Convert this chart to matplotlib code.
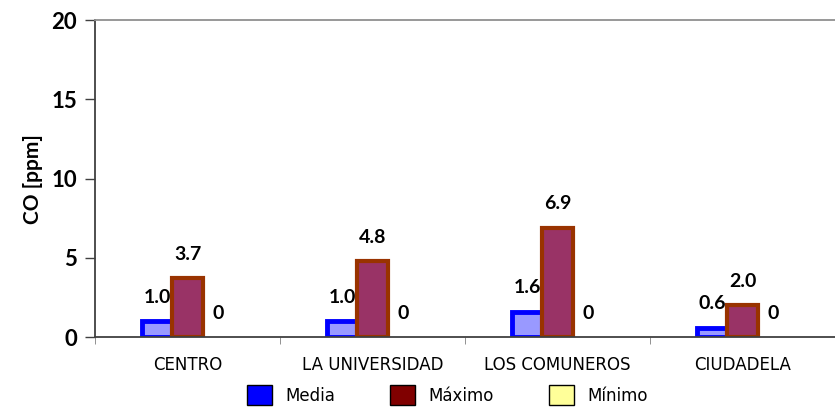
import numpy as np
import matplotlib.pyplot as plt
from matplotlib.patches import Patch

sites = ["CENTRO", "LA UNIVERSIDAD", "LOS COMUNEROS", "CIUDADELA"]
media = [1.0, 1.0, 1.6, 0.6]
maximo = [3.7, 4.8, 6.9, 2.0]
minimo = [0, 0, 0, 0]
series_names = ["Media", "Máximo", "Mínimo"]

fig = plt.figure(figsize=(8.35, 4.12), dpi=100)
ax = fig.add_axes([0.1138, 0.182, 0.8862, 0.769])

x = np.arange(len(sites))
w = 0.165
num_font = dict(family="Lato", weight="bold")

b1 = ax.bar(x - w, media, w, facecolor="#9999FF", edgecolor="#0000FF", linewidth=3.5)
b2 = ax.bar(x, maximo, w, facecolor="#993366", edgecolor="#993300", linewidth=3.0)
b3 = ax.bar(x + w, minimo, w, facecolor="#FFFF99", edgecolor="#000000", linewidth=0)

for bars, vals, fmt in [(b1, media, "{:.1f}"), (b2, maximo, "{:.1f}"), (b3, minimo, "{:.0f}")]:
    for b, v in zip(bars, vals):
        ax.annotate(fmt.format(v), (b.get_x() + b.get_width() / 2, v),
                    xytext=(0, 11), textcoords="offset points",
                    ha="center", va="bottom", fontsize=14, **num_font)

ax.set_xlim(-0.5, 3.5)
ax.set_ylim(0, 20)
ax.set_yticks([0, 5, 10, 15, 20])
ax.set_yticklabels(["0", "5", "10", "15", "20"], fontsize=16, **num_font)
ax.set_ylabel("CO [ppm]", fontsize=15, labelpad=6, **num_font)

ax.set_xticks(x)
ax.set_xticklabels(sites, fontsize=12, family="DejaVu Sans")
ax.tick_params(axis="x", length=0, pad=14)
ax.set_xticks(np.arange(-0.5, 4.0, 1.0), minor=True)
ax.tick_params(axis="x", which="minor", length=5, color="#808080")
ax.tick_params(axis="y", length=7, width=1, direction="out", color="#404040", pad=6)

for s in ["left", "bottom"]:
    ax.spines[s].set_color("#404040")
    ax.spines[s].set_linewidth(1.3)
ax.spines["top"].set_color("#909090")
ax.spines["top"].set_linewidth(1.3)
ax.spines["right"].set_visible(False)

handles = [Patch(facecolor="#0000FF", edgecolor="#000000", linewidth=1),
           Patch(facecolor="#800000", edgecolor="#000000", linewidth=1),
           Patch(facecolor="#FFFF99", edgecolor="#000000", linewidth=1)]
fig.legend(handles, series_names, loc="center", bbox_to_anchor=(0.536, 0.041), ncol=3,
           frameon=False, handlelength=1.5, handleheight=1.5,
           columnspacing=3.3, handletextpad=0.8, prop={"family": "DejaVu Sans", "size": 12})

fig.savefig("out.png", dpi=100)
